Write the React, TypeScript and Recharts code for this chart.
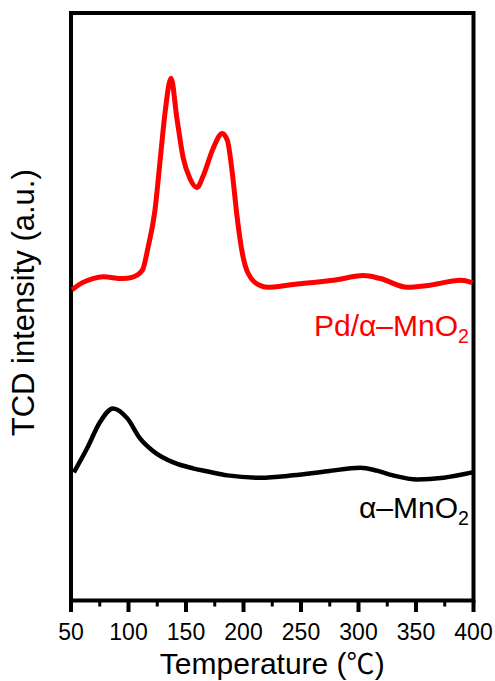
import React from "react";
import { LineChart, Line, XAxis, YAxis, ReferenceArea, ReferenceDot } from "recharts";

const xTicks = [50, 75, 100, 125, 150, 175, 200, 225, 250, 275, 300, 325, 350, 375, 400];

const pdTemps = [51, 60, 69, 78, 95, 103, 112, 117, 123, 127.5, 132, 137, 142, 147.5, 153.5, 159.5, 165, 173.5, 181.5, 186, 190, 194.5, 199, 204, 214.5, 220.5, 243, 258, 278, 304, 319, 342.5, 360, 389, 399];
const pdValues = [52.9, 54.1, 54.8, 55.1, 54.8, 55.0, 56.2, 60.1, 66.4, 74.9, 83.4, 88.9, 82.2, 75.4, 71.8, 70.3, 72.3, 76.9, 79.5, 78.3, 73.2, 65.2, 59.1, 55.7, 53.6, 53.3, 53.8, 54.1, 54.5, 55.3, 54.8, 53.3, 53.6, 54.5, 54.1];

const mnTemps = [52.5, 64, 75, 86.5, 99, 110, 121, 139, 156, 168, 186, 214.5, 243, 273, 301.5, 316, 330, 351, 374, 399];
const mnValues = [21.8, 25.9, 30.3, 32.7, 31.0, 27.6, 25.5, 23.5, 22.5, 22.0, 21.3, 20.9, 21.3, 22.0, 22.6, 22.1, 21.3, 20.6, 20.9, 21.8];

const pdData = pdTemps.map((t, i) => ({ t, v: pdValues[i] }));
const mnData = mnTemps.map((t, i) => ({ t, v: mnValues[i] }));

const FONT = "'Liberation Sans', Arial, sans-serif";

const Tick = (props: any) => {
  const { x, y, payload } = props;
  const major = payload.value % 50 === 0;
  return (
    <g>
      <line x1={x} x2={x} y1={y} y2={y + (major ? 11.5 : 6)} stroke="#000" strokeWidth={major ? 4 : 3} />
      {major && (
        <text x={x} y={y + 39.5} textAnchor="middle" fontSize={23} fontFamily={FONT} fill="#000">
          {payload.value}
        </text>
      )}
    </g>
  );
};

const makeAnno = (label: string, color: string, fs: number) => (props: any) => (
  <text x={props.cx} y={props.cy} textAnchor="end" fontSize={fs} fontFamily={FONT} fill={color}>
    {label}
    <tspan fontSize={fs * 0.65} dy={7}>2</tspan>
  </text>
);

export default function App() {
  return (
    <div style={{ position: "absolute", left: 0, top: 0, background: "#fff" }}>
      <LineChart width={495} height={681} margin={{ top: 13, right: 21.5, left: 0, bottom: 0 }}>
        <XAxis
          dataKey="t"
          type="number"
          domain={[50, 400]}
          ticks={xTicks}
          interval={0}
          allowDuplicatedCategory={false}
          tickLine={false}
          axisLine={false}
          tickSize={0}
          tickMargin={0}
          height={80.5}
          tick={<Tick />}
          label={(p: any) => {
            const vb = p.viewBox;
            return (
              <text x={vb.x + vb.width / 2} y={674} textAnchor="middle" fontSize={30} fontFamily={FONT} fill="#000">
                Temperature (<tspan fontFamily="'Noto Sans CJK SC', sans-serif" fontSize={28}>℃</tspan>)
              </text>
            );
          }}
        />
        <YAxis
          type="number"
          domain={[0, 100]}
          width={71}
          tick={false}
          tickLine={false}
          axisLine={false}
          label={(p: any) => {
            const vb = p.viewBox;
            const cy = vb.y + vb.height / 2 - 4;
            return (
              <text x={34} y={cy} transform={`rotate(-90, 34, ${cy})`} textAnchor="middle" fontSize={31} fontFamily={FONT} fill="#000">
                TCD intensity (a.u.)
              </text>
            );
          }}
        />
        <ReferenceArea x1={50} x2={400} y1={0} y2={100} fill="none" fillOpacity={0} stroke="#000" strokeWidth={4} ifOverflow="visible" />
        <Line data={pdData} dataKey="v" type="monotone" stroke="#ff0000" strokeWidth={5} dot={false} isAnimationActive={false} />
        <Line data={mnData} dataKey="v" type="monotone" stroke="#000000" strokeWidth={4.5} dot={false} isAnimationActive={false} />
        <ReferenceDot x={396} y={45.1} r={1} shape={makeAnno("Pd/α–MnO", "#ff0000", 30)} ifOverflow="visible" />
        <ReferenceDot x={396} y={14} r={1} shape={makeAnno("α–MnO", "#000000", 30)} ifOverflow="visible" />
      </LineChart>
    </div>
  );
}
